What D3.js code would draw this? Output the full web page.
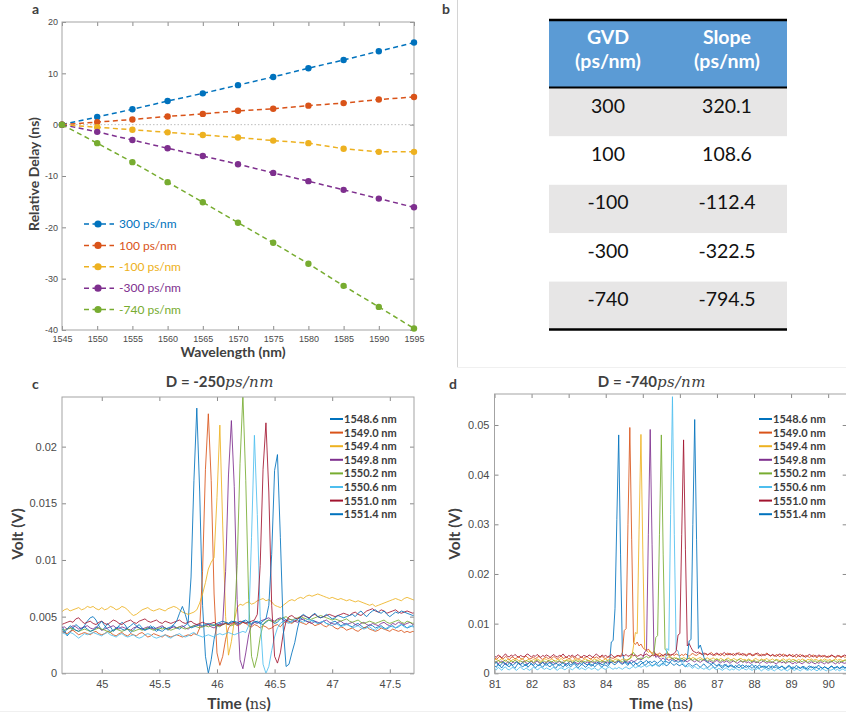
<!DOCTYPE html>
<html>
<head>
<meta charset="utf-8">
<script src="https://cdn.jsdelivr.net/npm/d3@7"></script>
<style>
body { margin: 0; background: #fff; }
svg { display: block; }
</style>
</head>
<body>
<div id="fig"></div>
<script>
// ---------- panel a : relative delay vs wavelength ----------
const wavelengths = [1545, 1550, 1555, 1560, 1565, 1570, 1575, 1580, 1585, 1590, 1595];
const delay300 = [0, 1.5, 3.0, 4.6, 6.1, 7.7, 9.3, 11.0, 12.6, 14.3, 16.0];
const delay100 = [0, 0.5, 1.0, 1.6, 2.1, 2.7, 3.1, 3.7, 4.2, 4.9, 5.4];
const delayM100 = [0, -0.5, -1.0, -1.5, -2.0, -2.5, -3.1, -3.6, -4.7, -5.3, -5.3];
const delayM300 = [0, -1.4, -3.0, -4.6, -6.1, -7.7, -9.4, -11.0, -12.7, -14.4, -16.1];
const delayM740 = [0, -3.6, -7.3, -11.2, -15.1, -19.1, -23.0, -27.1, -31.4, -35.5, -39.7];
const seriesNamesA = ["300 ps/nm", "100 ps/nm", "-100 ps/nm", "-300 ps/nm", "-740 ps/nm"];
const wlTicks = [1545, 1550, 1555, 1560, 1565, 1570, 1575, 1580, 1585, 1590, 1595];
const delayTicks = [-40, -30, -20, -10, 0, 10, 20];

// ---------- panel b : table ----------
const tableHead = [["GVD", "(ps/nm)"], ["Slope", "(ps/nm)"]];
const gvdValues = ["300", "100", "-100", "-300", "-740"];
const slopeValues = ["320.1", "108.6", "-112.4", "-322.5", "-794.5"];

// ---------- panel c : D = -250 ps/nm, volts in mV, t = 44.65 + 0.025*i ns ----------
const tStartC = 44.65, tStepC = 0.025;
const c1548_6 = [4.2,3.8,3.3,3.6,4.0,4.3,4.1,3.9,4.2,4.6,
  4.9,5.0,4.7,4.2,3.8,4.0,4.4,4.1,3.7,3.9,
  4.2,4.5,4.3,3.9,3.6,3.8,4.1,4.3,4.0,3.8,
  4.0,4.2,3.9,3.7,3.9,4.1,4.0,3.8,4.0,4.2,
  4.0,3.9,4.1,4.2,4.5,8.5,17,23.4,16,6,
  1.5,0.0,1.2,3.0,4.2,4.4,4.3,4.5,4.4,4.6,
  4.5,4.3,4.4,4.6,4.5,4.4,4.3,4.5,4.6,4.4,
  4.3,4.5,4.7,4.6,4.4,4.5,4.8,4.9,4.7,4.6,
  4.5,4.6,4.8,4.9,4.7,4.6,4.5,4.7,4.6,4.4,
  4.5,4.6,4.4,4.3,4.5,4.6,4.4,4.2,4.3,4.4,
  4.2,4.1,4.3,4.4,4.2,4.0,4.1,4.3,4.2,4.0,
  4.1,4.2,4.0,3.9,4.1,4.2,4.0,4.1,4.3,4.2,
  4.0,4.1,4.2,4.0];
const c1549_0 = [3.7,3.6,3.5,3.7,3.8,3.6,3.4,3.5,3.6,3.5,
  3.4,3.6,3.7,3.5,3.4,3.5,3.7,3.6,3.4,3.3,
  3.5,3.6,3.4,3.3,3.5,3.4,3.3,3.5,3.6,3.4,
  3.2,3.3,3.5,3.4,3.3,3.2,3.4,3.3,3.2,3.3,
  3.4,3.3,3.2,3.3,3.4,3.3,3.5,3.4,4.0,9.0,
  18,22.9,17,7,1.8,0.7,1.5,3.0,4.0,4.3,
  4.4,4.2,4.3,4.5,4.4,4.2,4.1,4.3,4.2,4.0,
  4.2,4.1,3.9,4.0,4.2,4.3,4.1,4.4,4.6,4.5,
  4.4,4.6,4.7,4.5,4.4,4.3,4.5,4.4,4.2,4.3,
  4.4,4.2,4.1,4.3,4.2,4.0,3.9,4.1,4.0,3.8,
  3.9,4.0,3.8,3.7,3.9,4.0,4.1,3.9,3.8,3.7,
  3.8,4.0,3.9,3.8,3.7,3.9,3.8,3.7,3.8,3.6,
  3.7,3.6,3.7,3.6];
const c1549_4 = [5.4,5.6,5.7,5.5,5.6,5.7,5.8,5.6,5.7,5.9,
  5.8,5.9,5.7,5.6,5.8,5.6,5.7,5.9,5.8,5.6,
  5.7,5.9,5.8,5.6,5.3,5.1,5.2,5.4,5.6,5.7,
  5.8,5.6,5.5,5.6,5.7,5.6,5.5,5.7,5.8,5.9,
  5.8,5.6,5.4,5.3,5.2,5.3,5.4,5.6,6.2,7.0,
  8.0,9.2,9.8,10.2,15.5,21.9,13,5,1.6,2.8,
  4.6,5.8,6.1,6.0,6.2,6.3,6.1,6.2,6.4,6.5,
  6.6,6.4,6.5,6.3,6.0,5.9,5.8,6.0,6.2,6.4,
  6.5,6.4,6.6,6.7,6.6,6.8,6.9,6.8,6.9,7.0,
  6.9,6.8,6.7,6.6,6.7,6.6,6.5,6.6,6.5,6.4,
  6.5,6.4,6.3,6.4,6.3,6.2,6.1,6.0,6.1,5.9,
  6.0,6.1,6.2,6.3,6.4,6.5,6.6,6.5,6.4,6.6,
  6.7,6.6,6.5,6.4];
const c1549_8 = [4.0,4.1,3.9,4.0,4.2,4.1,3.9,4.0,4.1,4.2,
  4.0,3.9,4.1,4.0,3.8,3.9,4.0,4.1,4.2,4.0,
  3.9,4.1,4.0,3.9,3.8,4.0,4.1,4.0,3.9,4.0,
  4.1,4.0,3.9,4.0,4.1,4.2,4.0,3.9,4.0,4.1,
  4.0,4.1,4.2,4.0,3.9,4.1,4.2,4.3,4.2,4.1,
  4.2,4.3,4.1,4.0,4.2,4.3,4.4,9.0,17.5,22.3,
  16.5,6.5,1.2,0.4,1.8,3.4,4.3,4.5,4.4,4.6,
  4.7,4.8,4.9,4.7,4.6,4.8,4.9,4.7,4.6,4.8,
  4.7,4.6,4.5,4.7,4.8,4.6,4.5,4.4,4.6,4.5,
  4.4,4.6,4.7,4.5,4.4,4.3,4.5,4.6,4.4,4.3,
  4.4,4.5,4.3,4.2,4.4,4.5,4.3,4.2,4.4,4.3,
  4.2,4.4,4.5,4.3,4.2,4.4,4.3,4.5,4.4,4.3,
  4.4,4.5,4.3,4.4];
const c1550_2 = [3.9,3.8,3.9,4.0,3.9,3.8,3.7,3.8,3.9,3.8,
  3.7,3.8,3.9,4.0,3.9,3.8,3.7,3.6,3.8,3.9,
  3.8,3.7,3.8,3.9,3.8,3.7,3.8,3.9,3.8,3.9,
  4.0,3.9,3.8,3.9,4.0,3.9,4.0,3.9,3.8,3.9,
  4.0,4.1,4.0,3.9,4.0,4.1,4.2,4.1,4.0,4.1,
  4.2,4.1,4.2,4.3,4.2,4.1,4.3,4.4,4.3,4.2,
  4.3,9.5,18.5,24.6,17,6.5,1.5,0.5,1.5,3.2,
  4.3,4.6,4.7,4.6,4.5,4.7,4.8,4.9,5.0,4.8,
  4.7,4.8,4.9,5.0,4.9,4.8,4.7,4.8,4.9,5.0,
  5.1,5.0,4.9,4.8,4.7,4.8,4.7,4.6,4.7,4.8,
  4.6,4.5,4.6,4.7,4.5,4.4,4.5,4.6,4.5,4.4,
  4.5,4.6,4.7,4.5,4.4,4.5,4.6,4.7,4.5,4.4,
  4.6,4.5,4.4,4.5];
const c1550_6 = [3.6,3.5,3.4,3.6,3.5,3.3,3.1,3.3,3.5,3.4,
  3.5,3.6,3.5,3.4,3.3,3.5,3.6,3.4,3.3,3.2,
  3.4,3.5,3.3,3.2,3.3,3.4,3.2,3.1,3.2,3.4,
  3.5,3.4,3.2,3.1,3.2,3.3,3.4,3.2,3.1,3.3,
  3.4,3.5,3.3,3.2,3.3,3.5,3.6,3.4,3.3,3.2,
  3.3,3.4,3.3,3.2,3.4,3.5,3.4,3.5,3.6,3.5,
  3.4,3.5,3.6,3.7,3.6,4.2,12,21.0,14,5,
  0.8,0.0,0.6,2.0,3.2,4.0,4.4,4.6,4.5,4.4,
  4.6,4.8,4.7,4.6,4.5,4.7,4.8,4.6,4.5,4.4,
  4.5,4.6,4.4,4.3,4.2,4.4,4.3,4.1,4.2,4.3,
  4.2,4.0,4.1,4.2,4.0,3.9,4.0,4.1,3.9,3.8,
  4.0,4.1,3.9,4.0,4.2,4.1,4.0,4.2,4.3,4.1,
  4.0,4.2,4.1,4.0];
const c1551_0 = [4.3,4.4,4.5,4.6,4.5,4.8,4.9,4.6,4.4,4.5,
  4.6,4.4,4.3,4.5,4.6,4.4,4.3,4.5,4.7,4.6,
  4.4,4.3,4.5,4.6,4.7,4.5,4.4,4.6,4.7,4.8,
  4.6,4.5,4.6,4.7,4.5,4.4,4.6,4.5,4.4,4.5,
  4.6,4.7,4.5,4.4,4.5,4.6,4.4,4.3,4.4,4.5,
  4.4,4.3,4.4,4.5,4.3,4.2,4.3,4.4,4.3,4.4,
  4.5,4.4,4.6,4.5,4.4,4.5,4.6,4.7,5.2,9.5,
  18,22.1,16,6,1.5,0.9,1.8,3.5,4.6,5.0,
  5.1,4.9,4.8,5.0,5.1,5.0,4.9,5.1,5.2,5.0,
  4.9,5.0,5.1,5.2,5.1,5.0,5.1,5.2,5.3,5.2,
  5.1,5.3,5.4,5.2,5.1,5.3,5.5,5.6,5.7,5.5,
  5.4,5.6,5.5,5.3,5.4,5.5,5.6,5.4,5.3,5.4,
  5.5,5.4,5.3,5.4];
const c1551_4 = [4.0,3.6,3.9,4.2,4.0,3.8,3.7,3.9,4.1,3.9,
  3.7,3.8,4.0,4.3,4.6,4.2,3.9,3.7,3.8,4.0,
  4.1,3.9,3.8,4.0,4.2,4.4,4.2,4.0,3.9,3.8,
  3.9,4.0,4.1,3.9,3.8,3.7,3.9,4.0,4.1,4.3,
  4.6,5.3,5.9,5.2,4.3,4.0,4.1,4.2,4.3,4.2,
  4.3,4.4,4.3,4.2,4.4,4.5,4.6,4.5,4.4,4.5,
  4.6,4.5,4.4,4.6,4.7,4.5,4.4,4.6,4.5,4.4,
  4.6,4.8,6.0,10.5,17.9,19.3,12,4.0,0.6,0.8,
  1.8,2.7,4.0,5.0,5.2,5.0,4.8,5.1,5.3,5.0,
  4.9,5.0,5.2,5.0,4.8,4.9,5.1,5.0,4.9,5.0,
  5.1,5.2,5.0,5.3,5.5,5.2,5.0,5.3,5.5,5.6,
  5.4,5.3,5.5,5.2,5.0,5.2,5.4,5.3,5.5,5.4,
  5.3,5.2,5.1,5.2];

// ---------- panel d : D = -740 ps/nm, volts in mV, t = 81 + 0.05*i ns ----------
const tStartD = 81, tStepD = 0.05;
const d1548_6 = [1.6,1.2,1.9,1.4,1.1,1.7,2.0,1.5,1.3,1.8,
  1.4,1.0,1.6,2.1,1.7,1.3,1.5,1.9,1.2,1.6,
  2.0,1.5,1.1,1.4,1.8,1.6,1.2,1.7,2.1,1.5,
  1.3,1.8,1.4,1.0,1.5,1.9,1.6,1.2,1.7,1.4,
  1.8,1.3,1.6,2.0,1.5,1.1,1.4,1.8,1.6,1.2,
  1.5,1.9,1.4,1.7,1.3,1.6,2.0,1.5,1.2,1.7,
  1.6,1.4,1.8,6.3,6.6,13,31,48.0,24,4.0,
  2.5,1.9,1.6,2.2,1.8,1.5,2.0,1.7,1.4,1.9,
  2.1,1.6,1.8,2.3,1.9,1.5,1.7,2.0,1.6,1.4,
  1.8,2.1,1.7,1.5,1.9,2.2,1.8,1.6,2.0,1.7,
  1.5,1.9,1.6,1.3,1.8,2.0,1.6,1.4,1.7,1.9,
  1.5,1.2,1.6,1.9,1.4,1.1,1.5,1.8,1.3,1.0,
  1.4,1.7,1.3,1.0,1.5,1.8,1.2,1.4,1.7,1.3,
  1.1,1.5,1.8,1.3,1.0,1.4,1.6,1.2,1.5,1.8,
  1.3,1.0,1.4,1.7,1.2,1.5,1.1,1.3,1.6,1.2,
  1.0,1.4,1.7,1.3,1.1,1.5,1.2,1.0,1.4,1.6,
  1.2,0.9,1.3,1.6,1.2,1.0,1.4,1.1,0.9,1.3,
  1.5,1.1,1.3,1.0,1.4,1.6,1.2,1.0,1.3,1.1,
  0.9,1.3,1.5,1.1,1.2,1.4,1.0,1.2,1.5,1.1,
  1.3];
const d1549_0 = [3.2,2.8,3.1,3.5,2.9,3.0,3.4,3.1,2.7,3.2,
  3.3,2.9,3.1,3.4,3.0,2.8,3.2,3.5,3.1,2.9,
  3.0,3.3,2.9,3.2,3.4,3.0,2.8,3.1,3.3,2.9,
  3.2,3.0,3.4,3.1,2.9,3.2,3.5,3.0,3.1,3.3,
  2.9,3.1,3.4,3.0,3.2,2.8,3.1,3.3,3.0,3.2,
  3.4,3.0,2.9,3.2,3.1,3.3,3.0,3.2,3.4,3.1,
  3.0,3.2,3.3,3.1,3.0,3.2,3.4,3.6,3.5,4.2,
  8.6,9.0,30,49.5,27,6.2,5.8,6.3,5.5,5.9,
  5.2,4.8,4.5,4.9,4.3,4.0,4.4,3.9,3.7,4.1,
  3.8,3.6,3.9,4.0,3.7,3.5,3.8,3.6,3.9,3.7,
  3.5,3.8,3.6,3.9,3.7,3.4,3.8,4.0,3.7,3.6,
  3.9,4.1,3.8,3.6,4.0,3.7,3.9,4.2,3.8,3.6,
  3.9,3.7,4.0,3.8,3.5,3.9,4.1,3.7,3.8,4.0,
  3.6,3.9,4.2,3.8,3.6,3.9,3.7,4.0,3.8,3.5,
  3.8,4.0,3.7,3.5,3.9,3.6,3.8,4.1,3.7,3.5,
  3.7,3.4,3.8,3.6,3.3,3.7,3.9,3.5,3.4,3.7,
  3.5,3.8,3.4,3.2,3.6,3.8,3.5,3.3,3.6,3.4,
  3.2,3.5,3.7,3.4,3.1,3.5,3.3,3.6,3.4,3.2,
  3.5,3.3,3.6,3.4,3.1,3.4,3.6,3.3,3.5,3.2,
  3.4];
const d1549_4 = [2.6,2.9,2.5,2.7,3.0,2.6,2.4,2.8,2.7,2.5,
  2.8,2.6,2.9,2.5,2.7,3.0,2.6,2.4,2.8,2.7,
  2.5,2.8,2.6,2.9,2.7,2.4,2.6,2.9,2.8,2.5,
  2.7,2.9,2.6,2.5,2.8,2.7,3.0,2.6,2.5,2.8,
  2.6,2.8,2.5,2.7,2.9,2.6,2.8,2.5,2.7,2.9,
  2.7,2.5,2.8,2.6,2.9,2.7,2.6,2.8,2.5,2.7,
  2.9,2.6,2.8,2.7,2.5,2.8,2.9,2.7,2.6,2.8,
  2.9,2.7,2.8,3.0,3.2,5.5,8.2,8.0,29,48.1,
  25,5.0,4.6,4.2,4.5,4.0,3.8,3.6,3.9,3.5,
  3.3,3.6,3.2,3.0,3.3,3.1,2.9,3.2,3.0,2.8,
  3.1,2.9,3.2,3.0,2.8,3.1,2.9,3.2,3.0,2.8,
  3.0,3.2,2.9,2.7,3.0,3.1,2.8,2.9,3.1,2.8,
  2.9,2.7,3.0,2.8,2.6,2.9,3.1,2.8,2.7,3.0,
  2.8,2.6,2.9,3.0,2.7,2.8,2.6,2.9,2.7,2.5,
  2.8,3.0,2.7,2.6,2.9,2.7,2.8,3.0,2.6,2.7,
  2.9,2.6,2.8,2.7,2.5,2.8,2.9,2.6,2.7,2.9,
  2.6,2.8,2.7,2.5,2.8,2.6,2.9,2.7,2.5,2.8,
  2.7,2.9,2.6,2.8,2.7,2.5,2.8,2.6,2.9,2.7,
  2.6,2.8,2.5,2.7,2.9,2.6,2.8,2.7,2.5,2.7,
  2.8];
const d1549_8 = [2.1,2.4,1.9,2.2,2.5,2.0,1.8,2.3,2.2,1.9,
  2.3,2.0,2.4,2.1,1.8,2.2,2.5,2.1,1.9,2.2,
  2.4,2.0,2.2,2.5,2.1,1.9,2.3,2.0,2.2,2.4,
  2.0,2.3,2.1,1.9,2.2,2.4,2.1,2.3,2.0,1.8,
  2.2,2.4,2.0,2.3,2.1,1.9,2.2,2.5,2.1,2.0,
  2.3,2.1,2.4,2.2,2.0,2.3,2.1,1.9,2.2,2.4,
  2.1,2.3,2.0,2.2,2.4,2.1,2.3,2.5,2.2,2.0,
  2.3,2.5,2.2,2.4,2.6,2.3,2.5,2.8,3.0,2.7,
  3.0,4.3,4.6,28,49.1,26,4.5,3.2,3.5,3.0,
  2.8,3.1,2.7,2.9,2.6,2.8,3.0,2.7,2.5,2.8,
  2.6,2.4,2.7,2.5,2.3,2.6,2.8,2.5,2.3,2.6,
  2.4,2.2,2.5,2.7,2.4,2.2,2.5,2.3,2.1,2.4,
  2.6,2.3,2.1,2.4,2.2,2.5,2.3,2.0,2.3,2.5,
  2.2,2.0,2.3,2.5,2.2,2.4,2.1,2.3,2.0,2.2,
  2.4,2.1,2.3,2.0,2.2,2.5,2.2,2.0,2.3,2.1,
  2.3,2.1,1.9,2.2,2.4,2.1,2.3,2.0,2.2,2.4,
  2.1,1.9,2.2,2.0,2.3,2.1,1.9,2.2,2.4,2.1,
  2.0,2.3,2.1,1.9,2.2,2.0,2.3,2.1,1.9,2.2,
  2.0,2.2,2.4,2.1,1.9,2.2,2.0,2.3,2.1,2.0,
  2.2];
const d1550_2 = [2.4,2.2,2.6,2.3,2.1,2.5,2.7,2.3,2.2,2.5,
  2.3,2.6,2.4,2.1,2.5,2.3,2.2,2.6,2.4,2.3,
  2.5,2.2,2.4,2.7,2.3,2.1,2.5,2.4,2.2,2.6,
  2.4,2.3,2.6,2.2,2.4,2.5,2.3,2.1,2.4,2.6,
  2.3,2.5,2.2,2.4,2.6,2.3,2.5,2.2,2.4,2.3,
  2.6,2.4,2.2,2.5,2.3,2.6,2.4,2.3,2.5,2.2,
  2.4,2.6,2.3,2.5,2.4,2.2,2.5,2.7,2.4,2.3,
  2.6,2.4,2.7,2.9,3.8,4.2,3.5,3.0,2.8,3.1,
  2.9,3.2,3.4,3.1,3.3,3.6,4.0,7.2,7.6,28,
  48.0,24,4.8,4.5,3.6,3.2,3.0,2.8,3.1,2.9,
  2.7,3.0,2.8,2.6,2.9,3.1,2.8,2.6,2.9,2.7,
  2.5,2.8,2.6,2.9,2.7,2.5,2.8,2.6,2.4,2.7,
  2.9,2.6,2.4,2.7,2.5,2.8,2.6,2.4,2.7,2.5,
  2.3,2.6,2.8,2.5,2.3,2.6,2.4,2.7,2.5,2.3,
  2.6,2.4,2.2,2.5,2.7,2.4,2.6,2.3,2.5,2.4,
  2.2,2.5,2.7,2.4,2.3,2.6,2.4,2.2,2.5,2.3,
  2.5,2.3,2.6,2.4,2.2,2.5,2.3,2.6,2.4,2.2,
  2.4,2.6,2.3,2.5,2.2,2.4,2.6,2.3,2.5,2.4,
  2.2,2.5,2.3,2.6,2.4,2.2,2.5,2.3,2.4,2.6,
  2.4];
const d1550_6 = [1.0,0.7,1.2,0.9,0.6,1.1,1.3,0.8,0.7,1.0,
  1.2,0.8,0.6,1.0,1.3,0.9,0.7,1.1,0.8,0.6,
  0.9,1.2,1.0,0.7,0.9,1.3,1.0,0.8,1.1,0.9,
  0.7,1.0,1.2,0.8,0.6,1.0,1.1,0.9,0.7,1.0,
  1.2,0.9,0.7,1.0,1.3,1.0,0.8,1.1,0.9,0.7,
  1.0,1.2,0.8,0.9,1.1,0.8,0.6,1.0,1.2,0.9,
  0.8,1.1,1.3,1.0,0.8,1.1,0.9,1.2,1.0,0.8,
  1.1,1.3,1.0,0.9,1.2,1.4,1.1,1.3,1.5,1.2,
  1.4,1.6,1.3,1.5,1.7,1.4,1.6,1.8,1.5,1.7,
  1.9,1.6,2.0,5.0,4.6,32,55.7,28,4.8,4.5,
  3.0,2.2,1.8,1.5,1.3,1.6,1.2,1.0,1.4,1.1,
  0.9,1.2,1.0,0.8,1.1,0.9,0.7,1.0,1.2,0.9,
  0.7,1.0,0.8,0.6,0.9,1.1,0.8,0.6,0.9,0.7,
  1.0,0.8,0.6,0.9,1.1,0.8,0.7,1.0,0.8,0.6,
  0.9,0.7,1.0,0.8,0.5,0.8,1.0,0.7,0.6,0.9,
  0.7,0.5,0.8,1.0,0.7,0.6,0.9,0.7,0.5,0.8,
  1.0,0.7,0.6,0.9,0.7,0.5,0.8,1.0,0.7,0.6,
  0.8,0.6,0.9,0.7,0.5,0.8,0.6,0.9,0.7,0.5,
  0.8,0.6,0.7,0.9,0.6,0.8,0.5,0.7,0.9,0.6,
  0.7];
const d1551_0 = [3.5,3.2,3.7,3.4,3.1,3.6,3.9,3.4,3.3,3.7,
  3.4,3.8,3.5,3.2,3.6,3.4,3.3,3.7,3.9,3.5,
  3.3,3.6,3.4,3.8,3.5,3.2,3.6,3.4,3.7,3.5,
  3.2,3.5,3.8,3.4,3.3,3.6,3.5,3.9,3.4,3.2,
  3.6,3.4,3.7,3.3,3.5,3.8,3.4,3.2,3.6,3.5,
  3.3,3.7,3.5,3.2,3.6,3.9,3.5,3.3,3.7,3.4,
  3.6,3.3,3.5,3.8,3.4,3.2,3.6,3.5,3.3,3.7,
  3.5,3.8,3.4,3.6,3.9,3.5,3.7,3.4,3.6,3.8,
  3.5,3.7,3.9,3.6,3.4,3.7,3.5,3.8,3.6,3.4,
  3.7,3.5,3.8,3.6,3.9,3.7,3.8,4.0,4.5,7.7,
  8.0,28,47.0,25,5.5,6.0,5.2,4.5,4.3,4.1,
  4.3,4.0,3.8,4.1,3.9,3.7,4.0,3.8,3.6,3.9,
  4.1,3.8,3.6,3.9,4.2,3.8,3.7,4.0,3.8,3.6,
  3.9,4.1,3.7,3.8,4.0,3.7,3.5,3.8,4.0,3.7,
  3.6,3.9,4.1,3.7,3.5,3.8,3.6,3.9,3.7,3.5,
  3.8,3.6,3.4,3.7,3.9,3.6,3.4,3.7,3.5,3.8,
  3.6,3.3,3.6,3.8,3.5,3.3,3.7,3.5,3.2,3.6,
  3.8,3.5,3.3,3.6,3.4,3.7,3.5,3.3,3.6,3.4,
  3.2,3.5,3.7,3.4,3.3,3.6,3.4,3.2,3.5,3.7,
  3.4];
const d1551_4 = [1.9,2.2,1.7,1.5,2.0,2.3,1.8,1.6,2.1,1.8,
  1.6,2.0,2.3,1.9,1.7,2.1,1.8,1.5,1.9,2.2,
  1.8,1.6,2.0,1.7,1.5,1.9,2.2,1.8,1.6,2.0,
  2.2,1.9,1.7,2.1,1.8,1.5,1.9,2.1,1.7,1.9,
  2.1,1.7,1.9,2.2,1.8,1.6,2.0,1.8,2.2,1.9,
  1.7,2.0,1.8,1.6,2.1,1.9,2.3,2.0,1.7,1.9,
  2.2,1.8,2.0,2.3,1.9,1.7,2.1,2.4,2.0,1.8,
  2.1,2.3,1.9,2.2,2.0,2.4,2.1,1.9,2.2,2.5,
  2.1,2.3,2.6,2.2,2.4,2.1,2.5,2.3,2.0,2.4,
  2.6,2.2,2.5,2.3,2.1,2.4,2.7,2.3,2.5,2.2,
  2.4,2.6,2.3,2.5,3.0,6.5,6.8,30,51.1,27,
  5.0,5.7,4.5,3.2,2.6,2.2,2.0,1.8,2.1,1.7,
  1.5,1.9,1.6,1.4,1.8,1.5,1.3,1.7,1.4,1.2,
  1.6,1.3,1.1,1.5,1.7,1.3,1.2,1.5,1.3,1.0,
  1.4,1.6,1.2,1.0,1.4,1.2,1.5,1.1,0.9,1.3,
  1.5,1.1,1.3,1.0,1.2,1.4,1.1,0.9,1.2,1.4,
  1.0,1.3,1.1,0.9,1.3,1.0,1.2,1.4,1.0,0.8,
  1.2,1.4,1.0,1.3,1.1,0.9,1.2,1.0,1.3,1.1,
  0.9,1.2,1.4,1.0,1.1,1.3,0.9,1.1,1.3,1.0,
  1.2];

const traceLabels = ["1548.6 nm", "1549.0 nm", "1549.4 nm", "1549.8 nm", "1550.2 nm", "1550.6 nm", "1551.0 nm", "1551.4 nm"];
const timeTicksC = [45, 45.5, 46, 46.5, 47, 47.5];
const voltTicksC = [0, 5, 10, 15, 20];
const timeTicksD = [81, 82, 83, 84, 85, 86, 87, 88, 89, 90];
const voltTicksD = [0, 10, 20, 30, 40, 50];

// MATLAB default line colours
const matlabColors = ["#0072BD", "#D95319", "#EDB120", "#7E2F8E", "#77AC30", "#4DBEEE", "#A2142F", "#0072BD"];

const W = 846, H = 722;
const svg = d3.select("#fig").append("svg")
    .attr("width", W).attr("height", H)
    .style("font-family", "Lato, 'Open Sans', sans-serif");

const tickFont = "'Liberation Sans', Arial, sans-serif";
const labelGrey = "#404040";

// faint panel separators
svg.append("line").attr("x1", 457.5).attr("x2", 457.5).attr("y1", 0).attr("y2", 367)
    .attr("stroke", "#d4d4d4");
svg.append("line").attr("x1", 457).attr("x2", W).attr("y1", 367.5).attr("y2", 367.5)
    .attr("stroke", "#f0f0f0");
svg.append("line").attr("x1", 0).attr("x2", W).attr("y1", 711.5).attr("y2", 711.5)
    .attr("stroke", "#f0f0f0");

// boxed axes with inward ticks on all four sides
function axesBox(g, x, y, xTicks, yTicks, xFmt, yFmt, fs, xPad, yPad) {
    const [x0, x1] = x.range(), [y0, y1] = y.range();
    const style = sel => {
        sel.attr("font-family", null).attr("font-size", null);
        sel.select(".domain").remove();
        sel.selectAll(".tick line").attr("stroke", "#8a8a8a");
        sel.selectAll(".tick text").attr("fill", "#4a4a4a")
            .style("font-family", tickFont).style("font-size", fs + "px");
    };
    const none = () => "";
    g.append("g").attr("transform", `translate(0,${y0})`)
        .call(d3.axisBottom(x).tickValues(xTicks).tickFormat(xFmt).tickSizeInner(-4).tickSizeOuter(0).tickPadding(xPad))
        .call(style);
    g.append("g").attr("transform", `translate(0,${y1})`)
        .call(d3.axisTop(x).tickValues(xTicks).tickFormat(none).tickSizeInner(-4).tickSizeOuter(0))
        .call(style);
    g.append("g").attr("transform", `translate(${x0},0)`)
        .call(d3.axisLeft(y).tickValues(yTicks).tickFormat(yFmt).tickSizeInner(-4).tickSizeOuter(0).tickPadding(yPad))
        .call(style);
    g.append("g").attr("transform", `translate(${x1},0)`)
        .call(d3.axisRight(y).tickValues(yTicks).tickFormat(none).tickSizeInner(-4).tickSizeOuter(0))
        .call(style);
    g.append("rect").attr("x", x0).attr("y", y1).attr("width", x1 - x0).attr("height", y0 - y1)
        .attr("fill", "none").attr("stroke", "#a3a3a3");
}

function panelLetter(x, y, s) {
    svg.append("text").attr("x", x).attr("y", y).text(s)
        .attr("fill", labelGrey).style("font-weight", 700).style("font-size", "14px");
}

// ================= panel a =================
const xA = d3.scaleLinear().domain([1545, 1595]).range([62, 414]);
const yA = d3.scaleLinear().domain([-40, 20]).range([330, 22]);
const gA = svg.append("g");
panelLetter(32, 14, "a");

gA.append("path")
    .attr("d", d3.line()([[xA(1545), yA(0)], [xA(1595), yA(0)]]))
    .attr("stroke", "#bdbdbd").attr("stroke-dasharray", "1.5,2").attr("fill", "none");

axesBox(gA, xA, yA, wlTicks, delayTicks, d => String(d), d => String(d), 9, 6, 4);

const seriesA = [delay300, delay100, delayM100, delayM300, delayM740];
const lineA = d3.line().x((d, i) => xA(wavelengths[i])).y(d => yA(d));
seriesA.forEach((s, k) => {
    gA.append("path").attr("d", lineA(s)).attr("fill", "none")
        .attr("stroke", matlabColors[k]).attr("stroke-width", 1.5).attr("stroke-dasharray", "5,3.5");
    gA.selectAll(null).data(s).join("circle")
        .attr("cx", (d, i) => xA(wavelengths[i])).attr("cy", d => yA(d)).attr("r", 3.2)
        .attr("fill", matlabColors[k]);
});

// legend a
const legA = d3.scalePoint().domain(seriesNamesA).range([224, 309.5]);
seriesNamesA.forEach((name, k) => {
    const y = legA(name);
    gA.append("line").attr("x1", 84).attr("x2", 114).attr("y1", y).attr("y2", y)
        .attr("stroke", matlabColors[k]).attr("stroke-width", 1.5).attr("stroke-dasharray", "5,3.5");
    gA.append("circle").attr("cx", 98).attr("cy", y).attr("r", 3.6).attr("fill", matlabColors[k]);
    gA.append("text").attr("x", 119).attr("y", y + 4.3).text(name)
        .attr("fill", matlabColors[k]).style("font-size", "12px");
});

gA.append("text").attr("x", 233).attr("y", 357).attr("text-anchor", "middle")
    .text("Wavelength (nm)").attr("fill", labelGrey).style("font-weight", 700).style("font-size", "14px");
gA.append("text").attr("transform", "translate(39,174) rotate(-90)").attr("text-anchor", "middle")
    .text("Relative Delay (ns)").attr("fill", labelGrey).style("font-weight", 700).style("font-size", "14px");

// ================= panel b =================
panelLetter(442, 14, "b");
const gB = svg.append("g");
const colX = d3.scalePoint().domain([0, 1]).range([608, 727]);
const rowY = d3.scaleBand().domain(d3.range(gvdValues.length)).range([88, 330]);
const tLeft = 549, tRight = 787;

gB.append("rect").attr("x", tLeft).attr("y", 20).attr("width", tRight - tLeft).attr("height", 68)
    .attr("fill", "#5B9BD5");
gB.selectAll(null).data(gvdValues).join("rect")
    .attr("x", tLeft).attr("width", tRight - tLeft)
    .attr("y", (d, i) => rowY(i)).attr("height", rowY.bandwidth())
    .attr("fill", (d, i) => i % 2 === 0 ? "#E7E6E6" : "#FFFFFF");
tableHead.forEach((h, c) => {
    gB.append("text").attr("x", colX(c)).attr("y", 44).attr("text-anchor", "middle").text(h[0])
        .attr("fill", "#fff").style("font-weight", 700).style("font-size", "19.5px");
    gB.append("text").attr("x", colX(c)).attr("y", 68).attr("text-anchor", "middle").text(h[1])
        .attr("fill", "#fff").style("font-weight", 700).style("font-size", "19.5px");
});
[gvdValues, slopeValues].forEach((col, c) => {
    gB.selectAll(null).data(col).join("text")
        .attr("x", colX(c)).attr("y", (d, i) => rowY(i) + 24.5).attr("text-anchor", "middle")
        .text(d => d).attr("fill", "#111").style("font-size", "19.5px");
});
[20, 87.5, 329.5].forEach(y => {
    gB.append("line").attr("x1", tLeft).attr("x2", tRight).attr("y1", y).attr("y2", y)
        .attr("stroke", "#000").attr("stroke-width", y === 87.5 ? 2.2 : 2.6);
});

// ================= panels c & d =================
function tracePanel(opts) {
    const g = svg.append("g");
    const { x, y, traces, t0, dt, clipId } = opts;
    const [x0, x1] = x.range(), [y0, y1] = y.range();
    g.append("clipPath").attr("id", clipId).append("rect")
        .attr("x", x0).attr("y", y1).attr("width", x1 - x0).attr("height", y0 - y1);
    const line = d3.line().x((v, i) => x(t0 + i * dt)).y(v => y(v));
    const lines = g.append("g").attr("clip-path", `url(#${clipId})`);
    traces.forEach((tr, k) => {
        lines.append("path").attr("d", line(tr)).attr("fill", "none")
            .attr("stroke", matlabColors[k]).attr("stroke-width", 1).attr("stroke-opacity", 0.85)
            .attr("stroke-linejoin", "round");
    });
    axesBox(g, x, y, opts.xTicks, opts.yTicks, d => String(d), d => String(d / 1000), 11, 7, 5);

    // legend
    const leg = d3.scalePoint().domain(traceLabels).range([419, 514.2]);
    traceLabels.forEach((name, k) => {
        const ly = leg(name);
        g.append("line").attr("x1", opts.legX).attr("x2", opts.legX + 13).attr("y1", ly).attr("y2", ly)
            .attr("stroke", matlabColors[k]).attr("stroke-width", 2);
        g.append("text").attr("x", opts.legX + 14).attr("y", ly + 4).text(name)
            .attr("fill", "#3c3c3c").style("font-weight", 700).style("font-size", "11px");
    });

    // title
    const tt = g.append("text").attr("x", opts.titleX).attr("y", 387).attr("text-anchor", "middle").attr("fill", labelGrey);
    tt.append("tspan").text(opts.title).style("font-weight", 700).style("font-size", "15px");
    tt.append("tspan").text("ps/nm").style("font-family", "'DejaVu Serif', serif")
        .style("font-style", "italic").style("font-size", "15px").style("letter-spacing", "0.6px");

    // axis titles
    const xt = g.append("text").attr("x", opts.xTitleX).attr("y", 709).attr("text-anchor", "middle")
        .attr("fill", labelGrey).style("font-weight", 700).style("font-size", "15.5px");
    xt.append("tspan").text("Time (");
    xt.append("tspan").text("ns").style("font-family", "'DejaVu Serif', serif").style("font-weight", 400).style("font-size", "14.5px");
    xt.append("tspan").text(")");
    g.append("text").attr("transform", `translate(${opts.yTitleX},534) rotate(-90)`).attr("text-anchor", "middle")
        .text("Volt (V)").attr("fill", labelGrey).style("font-weight", 700).style("font-size", "15.5px");
}

panelLetter(32, 389, "c");
tracePanel({
    x: d3.scaleLinear().domain([44.655, 47.71]).range([62, 414]),
    y: d3.scaleLinear().domain([0, 24.38]).range([673.3, 397]),
    traces: [c1548_6, c1549_0, c1549_4, c1549_8, c1550_2, c1550_6, c1551_0, c1551_4],
    t0: tStartC, dt: tStepC, clipId: "clipC",
    xTicks: timeTicksC, yTicks: voltTicksC,
    legX: 330, title: "D = -250", titleX: 220, xTitleX: 239, yTitleX: 23
});

panelLetter(449, 389, "d");
tracePanel({
    x: d3.scaleLinear().domain([81, 90.5]).range([494.5, 846.7]),
    y: d3.scaleLinear().domain([0, 56.24]).range([673.3, 394]),
    traces: [d1548_6, d1549_0, d1549_4, d1549_8, d1550_2, d1550_6, d1551_0, d1551_4],
    t0: tStartD, dt: tStepD, clipId: "clipD",
    xTicks: timeTicksD, yTicks: voltTicksD,
    legX: 759, title: "D = -740", titleX: 652, xTitleX: 661, yTitleX: 460
});
</script>
</body>
</html>
